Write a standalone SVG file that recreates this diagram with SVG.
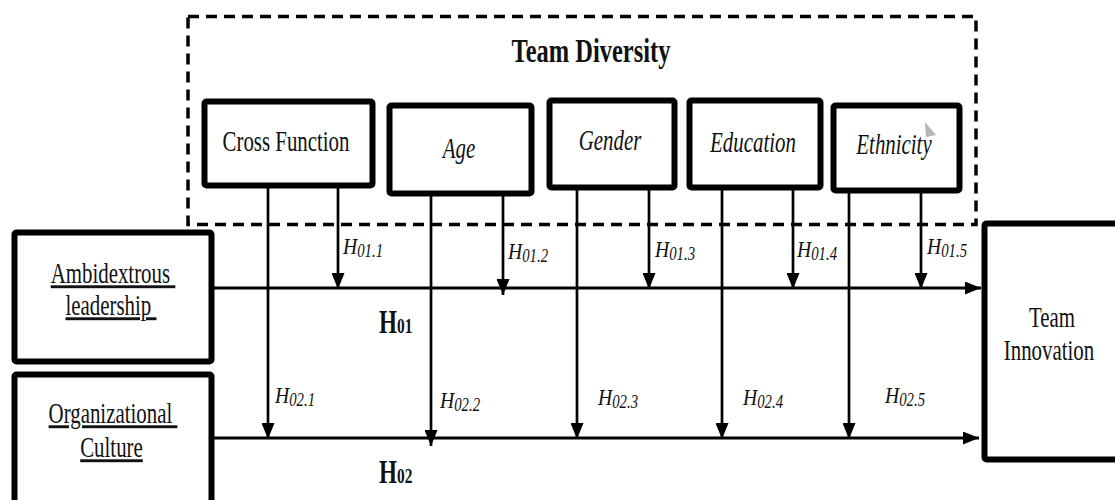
<svg xmlns="http://www.w3.org/2000/svg" width="1115" height="500" viewBox="0 0 1115 500">
<style>
.box{fill:#fff;stroke:#000;stroke-width:6}
.lbl{font-family:"Liberation Serif","Times New Roman",serif;font-size:29px;fill:#111;text-anchor:middle}
.it{font-style:italic}
.ul{text-decoration:underline;white-space:pre}
.h{font-family:"Liberation Serif","Times New Roman",serif;font-style:italic;font-size:24px;fill:#111}
.hs{font-size:18px}
.hb{font-family:"Liberation Serif","Times New Roman",serif;font-weight:bold;font-size:33px;fill:#111}
.hbs{font-size:22px}
.ln{stroke:#000;stroke-width:2.7;fill:none}
.hl{stroke:#000;stroke-width:3;fill:none}
</style>
<defs>
<marker id="ad" markerUnits="userSpaceOnUse" markerWidth="16" markerHeight="13" refX="16" refY="6.5" orient="auto" viewBox="0 0 16 13">
<path d="M0,0 L16,6.5 L0,13 z" fill="#000"/>
</marker>
<marker id="ah" markerUnits="userSpaceOnUse" markerWidth="16" markerHeight="13" refX="16" refY="6.5" orient="auto" viewBox="0 0 16 13">
<path d="M0,0 L16,6.5 L0,13 z" fill="#000"/>
</marker>
</defs>
<rect width="1115" height="500" fill="#fff"/>

<g id="team-diversity">
<rect x="188" y="16.5" width="788" height="208" fill="none" stroke="#000" stroke-width="3.5" stroke-dasharray="11 7"/>
<text class="lbl" transform="translate(591 62) scale(0.72 1)" style="font-size:34px;font-weight:bold">Team Diversity</text>
</g>

<g id="connectors">
<line class="hl" x1="214" y1="288" x2="981" y2="288" marker-end="url(#ah)"/>
<line class="hl" x1="214" y1="438" x2="979" y2="438" marker-end="url(#ah)"/>
<line class="ln" x1="338" y1="188" x2="338" y2="289" marker-end="url(#ad)"/>
<line class="ln" x1="268" y1="188" x2="268" y2="439" marker-end="url(#ad)"/>
<line class="ln" x1="503" y1="195" x2="503" y2="295" marker-end="url(#ad)"/>
<line class="ln" x1="431" y1="195" x2="431" y2="446" marker-end="url(#ad)"/>
<line class="ln" x1="649" y1="190" x2="649" y2="289" marker-end="url(#ad)"/>
<line class="ln" x1="577" y1="190" x2="577" y2="439" marker-end="url(#ad)"/>
<line class="ln" x1="793" y1="190" x2="793" y2="289" marker-end="url(#ad)"/>
<line class="ln" x1="722" y1="190" x2="722" y2="439" marker-end="url(#ad)"/>
<line class="ln" x1="921" y1="193" x2="921" y2="289" marker-end="url(#ad)"/>
<line class="ln" x1="849" y1="193" x2="849" y2="439" marker-end="url(#ad)"/>
<text class="h" transform="translate(343 254) scale(0.82 1)">H<tspan class="hs" dy="3">01.1</tspan></text>
<text class="h" transform="translate(508 259) scale(0.82 1)">H<tspan class="hs" dy="3">01.2</tspan></text>
<text class="h" transform="translate(655 257) scale(0.82 1)">H<tspan class="hs" dy="3">01.3</tspan></text>
<text class="h" transform="translate(797 257) scale(0.82 1)">H<tspan class="hs" dy="3">01.4</tspan></text>
<text class="h" transform="translate(927 254) scale(0.82 1)">H<tspan class="hs" dy="3">01.5</tspan></text>
<text class="h" transform="translate(275 403) scale(0.82 1)">H<tspan class="hs" dy="3">02.1</tspan></text>
<text class="h" transform="translate(440 408) scale(0.82 1)">H<tspan class="hs" dy="3">02.2</tspan></text>
<text class="h" transform="translate(598 405) scale(0.82 1)">H<tspan class="hs" dy="3">02.3</tspan></text>
<text class="h" transform="translate(743 405) scale(0.82 1)">H<tspan class="hs" dy="3">02.4</tspan></text>
<text class="h" transform="translate(885 403) scale(0.82 1)">H<tspan class="hs" dy="3">02.5</tspan></text>
<text class="hb" transform="translate(379 333) scale(0.7 1)">H<tspan class="hbs">01</tspan></text>
<text class="hb" transform="translate(379 483) scale(0.7 1)">H<tspan class="hbs">02</tspan></text>
</g>

<g id="cross-function">
<rect class="box" x="204.5" y="101.5" width="168" height="84" rx="2"/>
<text class="lbl" transform="translate(286 151) scale(0.72 1)">Cross Function</text>
</g>
<g id="age">
<rect class="box" x="389.5" y="105.5" width="142" height="88" rx="2"/>
<text class="lbl it" transform="translate(459 158) scale(0.72 1)">Age</text>
</g>
<g id="gender">
<rect class="box" x="549.5" y="100.5" width="125" height="87" rx="2"/>
<text class="lbl it" transform="translate(610 150) scale(0.72 1)">Gender</text>
</g>
<g id="education">
<rect class="box" x="689.5" y="100.5" width="131" height="87" rx="2"/>
<text class="lbl it" transform="translate(753 152) scale(0.72 1)">Education</text>
</g>
<g id="ethnicity">
<rect class="box" x="833.5" y="105.5" width="126" height="85" rx="2"/>
<text class="lbl it" transform="translate(894 154) scale(0.72 1)">Ethnicity</text>
<polygon points="925,122 936,135 926,137" fill="#b5b5b5"/>
</g>

<g id="ambidextrous-leadership">
<rect class="box" x="14.5" y="232.5" width="197" height="129" rx="2"/>
<text class="lbl ul" transform="translate(113 283) scale(0.72 1)">Ambidextrous </text>
<text class="lbl ul" transform="translate(111 315) scale(0.72 1)">leadership </text>
</g>
<g id="organizational-culture">
<rect class="box" x="14.5" y="374.5" width="197" height="140" rx="2"/>
<text class="lbl ul" transform="translate(113 423) scale(0.72 1)">Organizational </text>
<text class="lbl ul" transform="translate(111.5 457) scale(0.72 1)">Culture</text>
</g>
<g id="team-innovation">
<rect class="box" x="984.5" y="223.5" width="150" height="236" rx="2"/>
<text class="lbl" transform="translate(1052 327) scale(0.72 1)">Team</text>
<text class="lbl" transform="translate(1049 360) scale(0.72 1)">Innovation</text>
</g>
</svg>
